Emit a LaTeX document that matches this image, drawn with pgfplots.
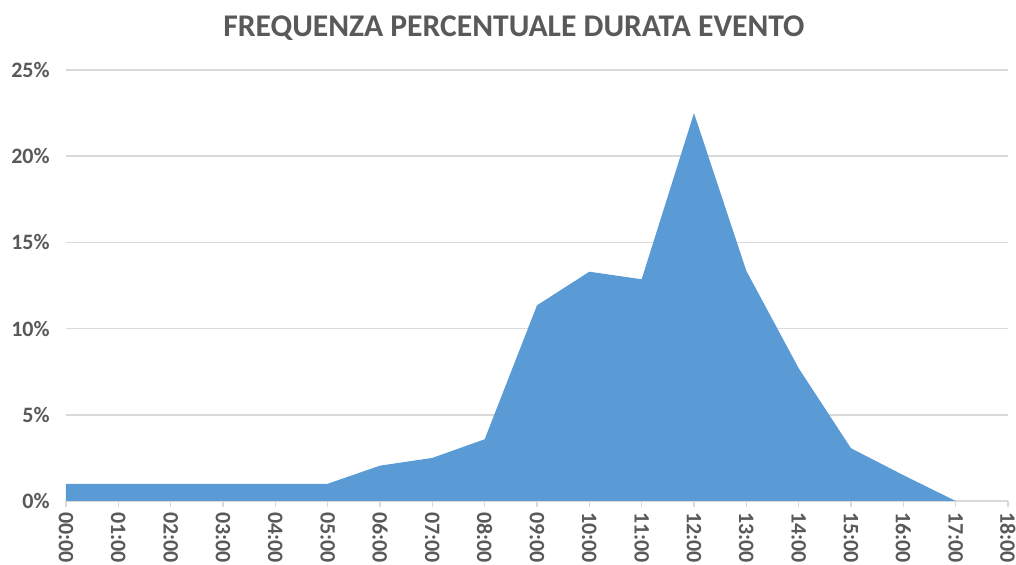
\documentclass[border=0pt]{standalone}
\usepackage{pgfplots}
\pgfplotsset{compat=1.18}
\usepackage{fontspec}
\setmainfont{Carlito}
\usetikzlibrary{calc}
\definecolor{areac}{HTML}{5B9BD5}
\definecolor{gridc}{HTML}{D9D9D9}
\definecolor{txtc}{HTML}{595959}
\begin{document}
\begin{tikzpicture}
\begin{axis}[
  scale only axis,
  width=471pt, height=215.5pt,
  xmin=0, xmax=18, ymin=0, ymax=25,
  axis x line*=bottom,
  axis line style={draw=gridc, line width=0.8pt},
  y axis line style={draw=none},
  separate axis lines,
  xtick={0,...,18},
  xticklabels={00:00,01:00,02:00,03:00,04:00,05:00,06:00,07:00,08:00,09:00,10:00,11:00,12:00,13:00,14:00,15:00,16:00,17:00,18:00},
  ytick={0,5,10,15,20,25},
  yticklabels={0\%,5\%,10\%,15\%,20\%,25\%},
  ymajorgrids, major grid style={draw=gridc, line width=0.8pt},
  tick style={draw=gridc, line width=0.8pt},
  ytick style={draw=none},
  tick align=outside,
  major tick length=3pt,
  x tick label style={rotate=-90, anchor=west, font=\bfseries\fontsize{11}{12}\selectfont, text=txtc, inner sep=0pt, xshift=2.5pt},
  y tick label style={font=\bfseries\fontsize{11}{12}\selectfont, text=txtc, anchor=east, inner sep=0pt, xshift=-5pt},
  clip=false,
]
\addplot[fill=areac, draw=none] coordinates {
  (0,1.0) (1,1.0) (2,1.0) (3,1.0) (4,1.0) (5,1.0) (6,2.05) (7,2.5) (8,3.58)
  (9,11.35) (10,13.3) (11,12.86) (12,22.5) (13,13.35) (14,7.7) (15,3.06)
  (16,1.5) (17,0)
} \closedcycle;
\end{axis}
\node[anchor=base, text=txtc, font=\bfseries\fontsize{15.8}{18}\selectfont] at ($(current axis.north)+(-11.5pt,16.5pt)$) {FREQUENZA PERCENTUALE DURATA EVENTO};
\pgfresetboundingbox
\path[use as bounding box] ($(current axis.south west)+(-33pt,-32pt)$) rectangle ($(current axis.north east)+(4pt,35pt)$);
\end{tikzpicture}
\end{document}
